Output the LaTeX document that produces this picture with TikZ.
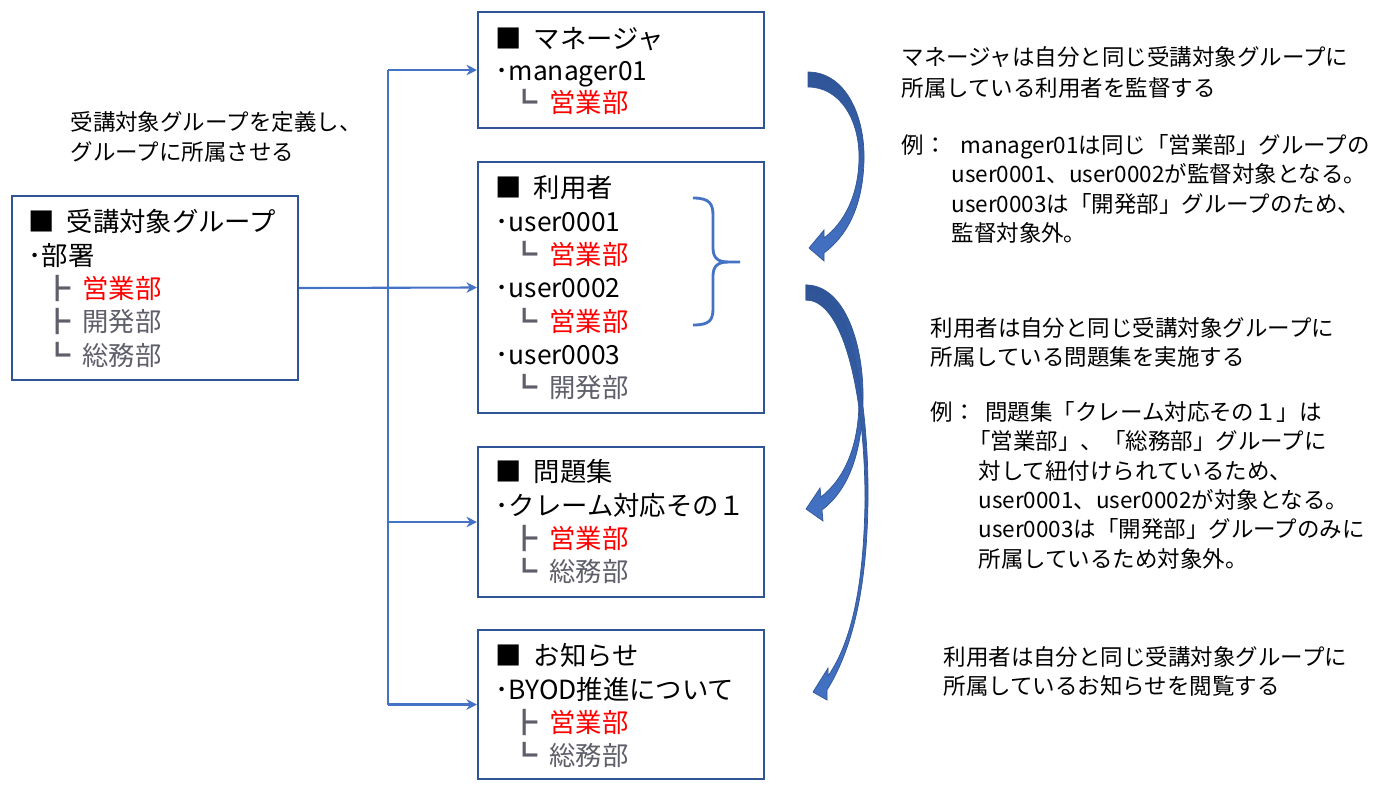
\documentclass[tikz,border=0pt]{standalone}
\usepackage{fontspec}
\setmainfont{Noto Sans CJK JP}
\usepackage{tikz}
\usetikzlibrary{arrows.meta,positioning}
\usepackage{xcolor}

\definecolor{boxblue}{HTML}{2F5597}
\definecolor{linkblue}{HTML}{4472C4}
\definecolor{deptred}{HTML}{FF0000}
\definecolor{deptgray}{HTML}{5F5F6B}

\newcommand{\redept}[1]{\textcolor{deptred}{#1}}
\newcommand{\graydept}[1]{\textcolor{deptgray}{#1}}
\newcommand{\tbranch}{\hspace*{0.6em}\textcolor{deptgray}{┣}\hspace{0.45em}}
\newcommand{\tlast}{\hspace*{0.6em}\textcolor{deptgray}{┗}\hspace{0.45em}}
\newcommand{\headsq}{■\hspace{0.45em}}

\begin{document}
\begin{tikzpicture}[x=0.02cm,y=-0.02cm,>={Stealth[length=6pt,width=6pt]},semithick]
    \tikzstyle{box}=[draw=boxblue,line width=1.2pt,fill=white,inner sep=0pt,minimum width=5.72cm]
    \tikzstyle{boxtext}=[anchor=north west,align=left,inner sep=0pt,font=\fontsize{15}{19}\selectfont]
    \tikzstyle{note}=[anchor=north west,align=left,inner sep=0pt,font=\fontsize{12.8}{16.7}\selectfont]
    \tikzstyle{link}=[draw=linkblue,line width=1.2pt]
    \tikzstyle{curvearrow}=[top color=boxblue,bottom color=linkblue,draw=boxblue,line width=0.4pt]

    \useasboundingbox (0,0) rectangle (1376,792);

    % boxes
    \node[box,minimum height=3.68cm] (grp)  at (155,288)   {};
    \node[box,minimum height=2.32cm] (mgr)  at (621,70)    {};
    \node[box,minimum height=5.02cm] (user) at (621,287.5) {};
    \node[box,minimum height=3.00cm] (prob) at (621,522)   {};
    \node[box,minimum height=2.98cm] (info) at (621,704.5) {};

    \node[boxtext] (grptxt) at (28,209) {\headsq 受講対象グループ\\･部署\\\tbranch\redept{営業部}\\\tbranch\graydept{開発部}\\\tlast\graydept{総務部}};
    \node[boxtext,font=\fontsize{15}{18.2}\selectfont] (mgrtxt) at (495,27) {\headsq マネージャ\\･manager01\\\tlast\redept{営業部}};
    \node[boxtext] (usertxt) at (495,175) {\headsq 利用者\\･user0001\\\tlast\redept{営業部}\\･user0002\\\tlast\redept{営業部}\\･user0003\\\tlast\graydept{開発部}};
    \node[boxtext] (probtxt) at (495,459) {\headsq 問題集\\･クレーム対応その１\\\tbranch\redept{営業部}\\\tlast\graydept{総務部}};
    \node[boxtext] (infotxt) at (495,643) {\headsq お知らせ\\･BYOD推進について\\\tbranch\redept{営業部}\\\tlast\graydept{総務部}};

    % connectors
    \coordinate (jn) at (388,0);
    \draw[link,->] (grp.east) -- (user.west);
    \draw[link] (jn |- mgr.west) -- (jn |- info.west);
    \draw[link,->] (jn |- mgr.west) -- (mgr.west);
    \draw[link,->] (jn |- prob.west) -- (prob.west);
    \draw[link,->] (jn |- info.west) -- (info.west);

    \node[note,font=\fontsize{12.8}{17}\selectfont] (deftxt) at (70,111) {受講対象グループを定義し、\\グループに所属させる};

    % brace
    \draw[link,line width=1.6pt] (693,198) .. controls (710,198) and (713,204) .. (713,216) -- (713,248)
        .. controls (713,258) and (718,262) .. (728,262) -- (740,262);
    \draw[link,line width=1.6pt] (728,262) .. controls (718,262) and (713,266) .. (713,276) -- (713,308)
        .. controls (713,320) and (710,325) .. (693,325);

    % curved arrows
    \shadedraw[curvearrow] (808,72) .. controls (845,72) and (865,115) .. (864,160) .. controls (863,205) and (848,235) .. (824,253)
        -- (824,261) -- (809,248) -- (824,230) -- (824,238) .. controls (845,222) and (858,195) .. (859,160)
        .. controls (860,120) and (840,87) .. (808,87) -- cycle;
    \shadedraw[curvearrow] (806,285) .. controls (845,285) and (864,345) .. (863,400) .. controls (862,455) and (848,490) .. (822,510)
        -- (823,521) -- (806,509) -- (820,488) -- (821,497) .. controls (845,478) and (859,445) .. (859,400)
        .. controls (859,345) and (840,300) .. (806,300) -- cycle;
    \shadedraw[curvearrow] (806,285) .. controls (850,287) and (869,400) .. (868,500) .. controls (867,590) and (852,650) .. (827,690)
        -- (827,700) -- (813,692) -- (828,668) -- (828,676) .. controls (853,640) and (864,580) .. (865,500)
        .. controls (865,400) and (845,300) .. (806,300) -- cycle;

    % notes
    \node[note,font=\fontsize{12.8}{17.6}\selectfont] (mgrnote) at (901,46) {マネージャは自分と同じ受講対象グループに\\所属している利用者を監督する};
    \node[note] (mgrexlbl) at (901,134) {例：};
    \node[note] (mgrex) at (951,134) {\hspace*{0.4em}manager01は同じ「営業部」グループの\\user0001、user0002が監督対象となる。\\user0003は「開発部」グループのため、\\監督対象外。};

    \node[note,font=\fontsize{12.8}{16.5}\selectfont] (usernote) at (930,317) {利用者は自分と同じ受講対象グループに\\所属している問題集を実施する};
    \node[note] (userexlbl) at (930,401) {例：};
    \node[note] (userex) at (978,401) {\hspace*{0.3em}問題集「クレーム対応その１」は\\\hspace*{-0.45em}「営業部」、「総務部」グループに\\対して紐付けられているため、\\user0001、user0002が対象となる。\\user0003は「開発部」グループのみに\\所属しているため対象外。};

    \node[note,font=\fontsize{12.8}{16.5}\selectfont] (infonote) at (943,646) {利用者は自分と同じ受講対象グループに\\所属しているお知らせを閲覧する};
\end{tikzpicture}
\end{document}
